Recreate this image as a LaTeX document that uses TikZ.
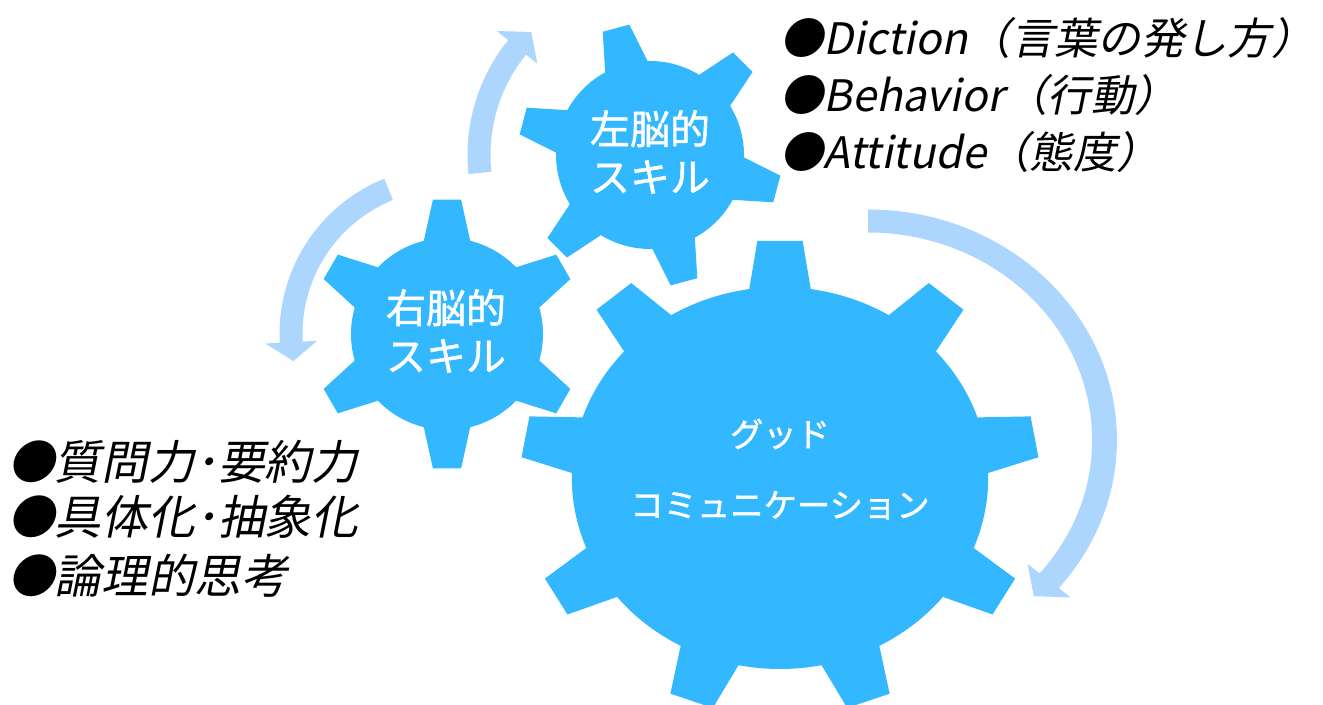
\documentclass[tikz,border=0pt]{standalone}
\usepackage{fontspec}
\setmainfont{Noto Sans CJK JP}
\newfontfamily\slantjp[FakeSlant=0.2]{Noto Sans CJK JP}
\newfontfamily\heavyjp[FakeBold=1.2]{Noto Sans CJK JP}
\definecolor{gearblue}{RGB}{51,183,255}
\definecolor{arrowblue}{RGB}{173,214,255}

% centre, teeth, body radius, tip radius, first tooth, base half-angle, tip half-angle, xscale
\newcommand{\gear}[8]{%
	\begin{scope}[shift={#1},xscale=#8]
		\fill[gearblue] ({#5-#6}:#3)
			\foreach \k [evaluate=\k as \a using {#5+(\k-1)*360/#2}] in {1,...,#2} {
				-- ({\a-#6}:#3) -- ({\a-#7}:#4) -- ({\a+#7}:#4) -- ({\a+#6}:#3)
				arc[start angle={\a+#6},end angle={\a+360/#2-#6},radius=#3]
			} -- cycle;
	\end{scope}}

% centre, xscale, tail angle, head angle, tip angle, mid radius
\newcommand{\turnarrow}[6]{%
	\begin{scope}[shift={#1},xscale=#2]
		\fill[arrowblue] (#3:{#6+11.5}) arc[start angle=#3,end angle=#4,radius={#6+11.5}]
			-- (#4:{#6+26}) -- (#5:#6) -- (#4:{#6-26}) -- (#4:{#6-11.5})
			arc[start angle=#4,end angle=#3,radius={#6-11.5}] -- cycle;
	\end{scope}}

\tikzset{
	gearlabel/.style={text=white,align=center,inner sep=0},
	listtext/.style={anchor=west,inner sep=0,font=\slantjp\fontsize{32.5}{40}\selectfont}
}

\begin{document}
\begin{tikzpicture}[x=0.75pt,y=0.75pt]
		\useasboundingbox (0,0) rectangle (1323,705);
		\coordinate (L) at (650,550);
		\coordinate (R) at (447,371);
		\coordinate (G) at (780,227);
		\coordinate (A) at (868,265);
		\turnarrow{(L)}{1}{186}{141}{134}{171}
		\turnarrow{(R)}{1}{112}{183}{190}{156}
		\turnarrow{(A)}{1.08}{90}{-40}{-45.5}{219}
		\gear{(L)}{6}{94}{132}{45}{13.5}{6}{1}
		\gear{(R)}{6}{96}{135}{90}{14}{6}{1}
		\gear{(G)}{9}{191}{238}{10}{8.5}{5}{1.09}
		\node[gearlabel,font=\heavyjp\fontsize{30}{36}\selectfont] (leftbrain) at (650,553) {左脳的\\スキル};
		\node[gearlabel,font=\heavyjp\fontsize{30}{36}\selectfont] (rightbrain) at (446,374) {右脳的\\スキル};
		\node[gearlabel,font=\heavyjp\fontsize{25}{53}\selectfont] (goodcomm) at (780,236) {グッド\\コミュニケーション};
		\node[listtext] (diction) at (780,667) {●Diction（言葉の発し方）};
		\node[listtext] (behavior) at (780,610) {●Behavior（行動）};
		\node[listtext] (attitude) at (780,553) {●Attitude（態度）};
		\node[listtext,font=\slantjp\fontsize{35}{40}\selectfont] (question) at (8,243) {●質問力･要約力};
		\node[listtext,font=\slantjp\fontsize{35}{40}\selectfont] (concrete) at (8,188) {●具体化･抽象化};
		\node[listtext,font=\slantjp\fontsize{35}{40}\selectfont] (logic) at (8,129) {●論理的思考};
	\end{tikzpicture}
\end{document}
